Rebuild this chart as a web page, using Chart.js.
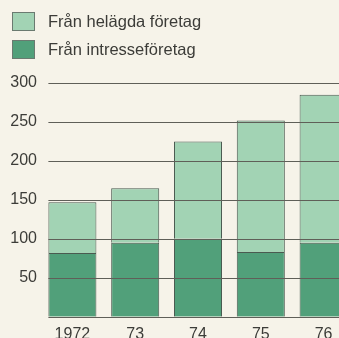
<!DOCTYPE html>
<html>
<head>
<meta charset="utf-8">
<script src="https://cdn.jsdelivr.net/npm/chart.js@4.4.1/dist/chart.umd.min.js"></script>
<style>
  html, body { margin: 0; padding: 0; background: #f6f3e9; overflow: hidden; }
  #wrap { position: relative; width: 355px; height: 352px; }
</style>
</head>
<body>
<div id="wrap"><canvas id="chart"></canvas></div>
<script>
var years = ['1972', '73', '74', '75', '76'];
var intresse = [82, 95, 100, 83, 95];
var helagda = [65, 70, 125, 169, 190];
var yTicks = [0, 50, 100, 150, 200, 250, 300];

var GRID = '#5f5f58';
var FONT = 'Arial, "Liberation Sans", sans-serif';

// horizontal rules drawn on top of the bars, starting at the first bar's left edge
var overGrid = {
  id: 'overGrid',
  afterDatasetsDraw: function (chart) {
    var ctx = chart.ctx;
    var y = chart.scales.y;
    var first = chart.getDatasetMeta(0).data[0];
    var x0 = first.x - first.width / 2;
    ctx.save();
    ctx.strokeStyle = GRID;
    ctx.lineWidth = 1;
    yTicks.forEach(function (v) {
      var py = Math.round(y.getPixelForValue(v)) + 0.5;
      ctx.beginPath();
      ctx.moveTo(x0, py);
      ctx.lineTo(chart.width, py);
      ctx.stroke();
    });
    ctx.restore();
  }
};

// stacked legend in the top-left corner, top series listed first
var boxLegend = {
  id: 'boxLegend',
  afterDraw: function (chart) {
    var ctx = chart.ctx;
    ctx.save();
    ctx.font = '16.5px ' + FONT;
    ctx.textBaseline = 'middle';
    chart.data.datasets.slice().reverse().forEach(function (ds, i) {
      var top = 12 + i * 28;
      ctx.fillStyle = ds.backgroundColor;
      ctx.fillRect(12, top, 23, 19);
      ctx.strokeStyle = '#6a7a70';
      ctx.lineWidth = 1;
      ctx.strokeRect(12.5, top + 0.5, 22, 18);
      ctx.fillStyle = '#3c3c38';
      ctx.fillText(ds.label, 48, top + 10);
    });
    ctx.restore();
  }
};

Chart.defaults.font.family = FONT;
Chart.defaults.font.size = 16;
Chart.defaults.color = '#3c3c38';

new Chart(document.getElementById('chart'), {
  type: 'bar',
  data: {
    labels: years,
    datasets: [
      {
        label: 'Från intresseföretag',
        data: intresse,
        backgroundColor: '#51a07a',
        borderColor: '#4a5a50',
        borderWidth: 1
      },
      {
        label: 'Från helägda företag',
        data: helagda,
        backgroundColor: '#a2d3b4',
        borderColor: '#4a5a50',
        borderWidth: 1
      }
    ]
  },
  plugins: [overGrid, boxLegend],
  options: {
    responsive: true,
    maintainAspectRatio: false,
    animation: false,
    datasets: { bar: { categoryPercentage: 1, barPercentage: 0.765 } },
    layout: { padding: { left: 0, right: 0, top: 83, bottom: 0 } },
    plugins: {
      tooltip: { enabled: false },
      legend: { display: false }
    },
    scales: {
      x: {
        stacked: true,
        grid: { display: false, drawTicks: false },
        border: { display: false },
        ticks: { padding: 8, font: { size: 16 } }
      },
      y: {
        stacked: true,
        min: 0,
        max: 300,
        afterBuildTicks: function (scale) {
          scale.ticks = yTicks.map(function (v) { return { value: v }; });
        },
        afterFit: function (scale) { scale.width = 41; },
        grid: { display: false, drawTicks: false },
        border: { display: false },
        ticks: {
          padding: 4,
          font: { size: 16 },
          callback: function (v) { return v === 0 ? '' : v; }
        }
      }
    }
  }
});
</script>
</body>
</html>
